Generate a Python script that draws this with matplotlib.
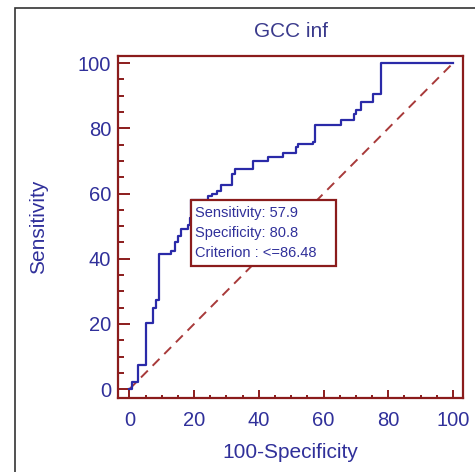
import matplotlib
matplotlib.use("Agg")
import matplotlib.pyplot as plt
from matplotlib.patches import Rectangle
from matplotlib.ticker import MultipleLocator

# ROC curve corner points (100-Specificity, Sensitivity)
fpr = [0, 0.8, 2.8, 5.3, 7.4, 8.2, 9.1, 13.0, 14.0, 14.9, 16.1, 18.2, 18.8, 19.2,
       24.4, 25.6, 27.0, 28.2, 31.6, 32.6, 38.3, 42.7, 47.5, 51.6, 52.2, 56.8,
       57.3, 65.5, 69.5, 70.0, 71.6, 75.2, 77.8, 100]
tpr = [0, 2.2, 7.3, 20.2, 24.8, 27.5, 41.4, 42.5, 45.0, 46.9, 49.0, 50.5, 52.6, 57.9,
       59.3, 60.0, 60.8, 62.5, 65.9, 67.5, 70.1, 71.1, 72.6, 74.2, 75.2, 75.7,
       80.9, 82.7, 84.5, 85.5, 88.1, 90.6, 100, 100]

title = "GCC inf"
xlabel = "100-Specificity"
ylabel = "Sensitivity"
ticks = [0, 20, 40, 60, 80, 100]
cut_x, cut_y = 19.2, 57.9
box_lines = ["Sensitivity: 57.9", "Specificity: 80.8", "Criterion : <=86.48"]

blue = "#30309a"
red = "#8b1c1c"
plt.rcParams['font.family'] = ['Liberation Sans', 'DejaVu Sans']

fig = plt.figure(figsize=(4.75, 4.72), dpi=100)
# outer frame
fig.patches.append(Rectangle((15/475, -0.2), 1.2, 1 - 8/472 + 0.2, transform=fig.transFigure,
                             fill=False, edgecolor="#333333", linewidth=1.2))
ax = fig.add_axes([118/475, 1 - 398/472, 345/475, 342/472])

ax.plot(fpr, tpr, drawstyle='steps-post', color="#2a2aa8", lw=1.6, zorder=3)
ax.plot([0, 100], [0, 100], color="#a83a3a", lw=1.4, dashes=(5, 3.5), zorder=2)

ax.set_xlim(-3.5, 103.1)
ax.set_ylim(-2.7, 102.2)
ax.xaxis.set_minor_locator(MultipleLocator(5))
ax.yaxis.set_minor_locator(MultipleLocator(5))
ax.set_xticks(ticks)
ax.set_yticks(ticks)
for s in ax.spines.values():
    s.set_color(red)
    s.set_linewidth(1.6)
ax.tick_params(axis='both', which='both', direction='in', color=red, width=1.4,
               labelcolor=blue, labelsize=14.5)
ax.tick_params(axis='x', which='major', length=5.8, pad=9.5)
ax.tick_params(axis='x', which='minor', length=2.5)
ax.tick_params(axis='y', which='major', length=8.6, pad=5)
ax.tick_params(axis='y', which='minor', length=4.3)

ax.set_title(title, color="#3a3a8c", fontsize=15, pad=14)
ax.set_xlabel(xlabel, color=blue, fontsize=15, labelpad=9)
ax.set_ylabel(ylabel, color=blue, fontsize=15, labelpad=21)

bw, bh = 44.7, 20.0
ax.add_patch(Rectangle((cut_x, cut_y - bh), bw, bh, facecolor="white",
                       edgecolor=red, lw=1.6, zorder=4))
for i, line in enumerate(box_lines):
    ax.text(cut_x + 1.0, cut_y - 4.0 - i * 6.1, line, color=blue, fontsize=10.5,
            va='center', ha='left', zorder=5)

fig.savefig("out.png", dpi=100)
